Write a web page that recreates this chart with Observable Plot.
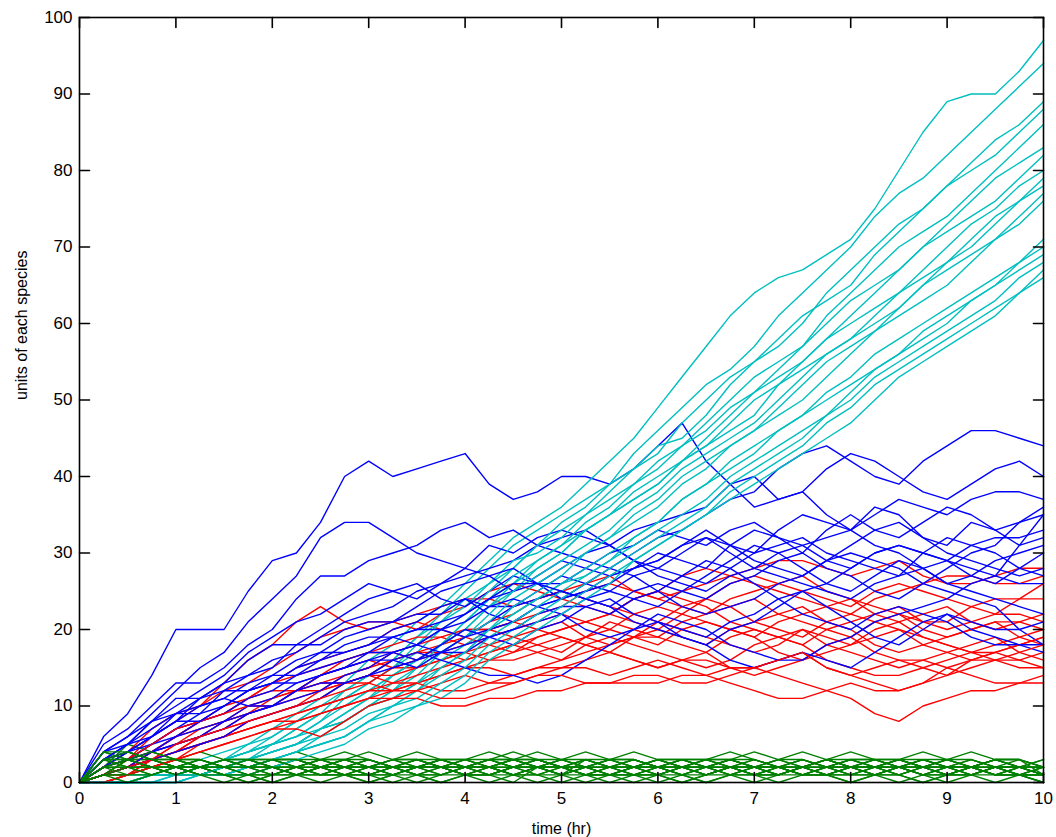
<!DOCTYPE html>
<html><head><meta charset="utf-8">
<script src="https://cdn.jsdelivr.net/npm/d3@7"></script>
<script src="https://cdn.jsdelivr.net/npm/@observablehq/plot@0.6"></script>
<style>body{margin:0;background:#fff}#chart{width:1056px;height:837px}</style>
</head><body><div id="chart"></div>
<script>
// ---------------- data ----------------
const xTicks = [0,1,2,3,4,5,6,7,8,9,10];
const yTicks = [0,10,20,30,40,50,60,70,80,90,100];
const xLabel = "time (hr)";
const yLabel = "units of each species";

const time = [0,0.25,0.5,0.75,1,1.25,1.5,1.75,2,2.25,2.5,2.75,3,3.25,3.5,3.75,4,4.25,4.5,4.75,5,5.25,5.5,5.75,6,6.25,6.5,6.75,7,7.25,7.5,7.75,8,8.25,8.5,8.75,9,9.25,9.5,9.75,10];

const blueRuns = [
 [0,6,9,14,20,20,20,25,29,30,34,40,42,40,41,42,43,39,37,38,40,40,39,41,44,47,42,39,36,37,38,35,33,36,35,32,31,34,33,31,32],
 [0,4,6,9,12,15,17,21,24,27,32,34,34,32,30,29,28,31,30,32,33,32,31,33,34,35,36,39,40,37,38,41,43,42,40,38,37,39,41,42,40],
 [0,5,7,10,13,13,15,18,20,24,27,27,29,30,31,33,34,32,33,31,30,29,28,30,32,33,35,37,38,41,43,44,42,40,39,42,44,46,46,45,44],
 [0,3,5,8,10,12,14,17,19,21,22,24,26,25,24,26,27,28,29,31,32,33,31,29,28,30,32,31,30,33,35,34,33,35,37,36,35,37,38,38,37],
 [0,4,5,8,9,9,12,14,15,18,20,22,24,25,26,24,23,25,27,26,26,28,30,31,33,32,31,33,34,32,30,33,35,33,32,34,36,35,33,34,35],
 [0,2,4,6,8,11,13,14,16,17,19,21,22,23,25,26,28,27,25,27,29,28,27,28,30,29,28,31,33,32,31,29,28,30,31,30,29,31,32,32,33],
 [0,4,6,8,11,11,13,16,18,18,18,20,21,21,23,25,26,27,28,26,24,25,27,28,29,31,33,31,29,28,27,29,31,33,34,32,30,29,28,27,28],
 [0,2,3,5,7,8,10,12,13,15,17,19,20,21,22,22,24,23,23,25,27,26,25,27,28,27,26,28,30,31,32,30,29,28,27,30,32,31,30,28,27],
 [0,3,4,6,8,10,11,13,14,14,16,18,19,19,18,20,22,24,25,26,28,30,31,29,27,26,25,27,28,30,31,32,33,31,30,28,26,27,29,30,31],
 [0,3,5,7,9,11,12,12,14,16,17,17,18,20,21,23,24,22,21,23,24,25,26,28,29,31,32,30,28,27,26,25,24,26,27,28,29,27,26,28,30],
 [0,2,3,5,6,8,9,11,12,14,15,16,17,19,20,20,19,21,23,24,25,24,23,25,26,25,24,26,27,29,30,28,27,25,24,26,28,30,31,34,36],
 [0,2,4,5,7,9,10,12,13,13,14,15,16,17,18,20,21,23,24,23,22,24,25,24,23,25,27,29,31,30,28,26,25,27,29,28,26,25,24,23,22],
 [0,2,3,4,6,7,8,10,11,13,14,15,16,16,15,17,19,20,21,23,24,26,28,27,25,23,22,23,24,26,27,29,30,29,28,26,25,24,23,20,18],
 [0,1,2,4,5,6,7,9,10,11,12,14,15,17,18,17,17,19,20,22,23,23,22,24,25,27,29,28,26,24,22,21,20,22,23,22,21,19,18,18,17],
 [0,3,4,6,9,10,11,10,10,12,14,15,17,17,16,18,20,19,18,20,21,23,24,22,21,20,19,21,22,24,25,23,21,19,18,20,22,20,19,18,18],
 [0,2,3,4,5,6,8,9,10,12,13,13,14,16,17,16,15,14,14,13,14,16,18,20,22,21,20,18,17,16,16,18,19,21,22,23,24,26,27,26,26],
 [0,1,2,3,4,5,6,8,9,10,11,13,14,15,16,17,18,19,20,21,22,20,19,20,21,19,18,16,15,16,17,16,15,17,19,21,22,21,20,20,21],
 [0,3,5,6,8,8,10,12,13,15,16,17,18,19,20,21,22,24,26,26,25,24,23,21,20,19,18,20,21,23,25,26,28,30,31,30,29,28,27,31,35]
];

const redRuns = [
 [0,1,3,6,8,10,13,16,18,21,23,21,20,21,22,23,24,24,23,24,25,26,27,25,24,25,26,27,28,29,29,28,27,28,29,27,26,26,27,28,28],
 [0,2,4,7,9,10,12,13,15,17,19,20,21,21,20,22,23,25,26,25,24,23,22,24,25,27,28,27,26,25,24,23,22,24,25,26,27,27,26,26,27],
 [0,1,2,4,6,8,10,11,13,15,16,17,18,20,21,20,19,21,22,24,25,24,23,22,21,23,24,26,27,26,25,24,23,25,26,25,24,23,22,24,26],
 [0,2,3,5,7,8,9,11,13,14,15,16,17,17,16,18,20,20,21,22,23,25,26,25,24,23,22,24,25,26,27,25,24,23,22,21,21,23,24,24,24],
 [0,1,2,4,5,7,8,10,11,12,14,16,17,18,19,19,18,19,20,21,22,21,20,22,23,22,21,20,19,21,22,23,24,22,21,22,23,21,20,21,22],
 [0,1,1,3,4,6,8,9,10,12,13,14,15,16,17,18,19,18,17,19,20,21,22,24,25,24,23,21,20,19,18,20,21,22,23,21,20,21,22,22,21],
 [0,2,3,4,6,8,9,11,12,12,12,14,15,17,18,19,20,20,19,18,17,19,21,20,19,21,22,23,24,22,21,20,19,21,22,20,19,20,21,21,20],
 [0,1,2,4,6,7,8,9,10,12,14,15,16,15,15,16,17,18,19,20,21,19,18,19,20,22,24,23,21,20,19,21,22,21,20,19,18,17,17,18,19],
 [0,1,1,2,3,5,6,8,9,10,12,13,14,16,17,17,16,17,18,19,20,21,22,21,20,19,18,20,21,22,23,21,20,18,17,18,19,20,21,19,18],
 [0,1,2,3,5,6,7,9,11,12,13,13,13,15,16,17,18,20,21,20,19,18,17,19,21,20,19,18,17,18,20,19,18,20,21,19,18,17,16,16,17],
 [0,1,2,3,4,6,7,8,9,10,11,13,14,14,15,16,17,16,16,17,18,19,20,19,18,20,21,20,19,17,16,17,18,19,20,18,17,18,19,17,16],
 [0,0,1,3,4,5,6,7,8,9,10,11,12,13,14,15,16,17,18,17,16,18,19,18,17,16,15,16,18,19,20,18,17,16,15,16,17,16,16,15,15],
 [0,2,3,5,7,8,9,10,10,11,12,13,14,13,13,14,15,16,17,18,19,18,17,16,15,16,17,19,20,19,18,16,15,14,14,15,16,17,18,19,20],
 [0,1,2,3,4,5,6,7,8,9,10,11,12,12,13,14,15,15,14,15,16,17,18,19,19,18,17,15,14,15,16,18,19,17,16,15,14,16,17,18,19],
 [0,0,1,2,3,4,5,6,7,8,9,10,11,12,13,12,12,13,14,15,15,16,17,16,15,16,16,15,15,16,17,15,14,13,12,13,15,14,13,13,14],
 [0,1,2,3,4,5,6,7,8,8,9,10,11,11,12,13,14,13,13,14,15,15,14,15,16,15,14,13,12,11,11,12,13,12,12,13,14,15,16,17,18],
 [0,0,1,2,3,4,5,6,7,7,6,8,10,11,11,10,10,11,11,12,12,13,13,13,13,14,14,15,15,14,13,12,11,9,8,10,11,12,12,13,13],
 [0,1,2,3,5,6,7,8,9,10,11,12,13,12,12,11,11,12,13,14,14,13,13,14,14,13,13,14,15,16,17,15,14,15,16,16,15,16,17,16,15]
];

const cyanRuns = [
 [0,0,0,1,2,3,4,5,7,9,11,13,16,18,21,23,26,29,32,34,36,39,42,45,49,53,57,61,64,66,67,69,71,75,80,85,89,90,90,93,97],
 [0,0,1,1,2,2,3,4,6,8,10,12,14,16,19,22,25,28,31,33,35,37,39,43,46,49,52,54,57,61,64,67,70,74,77,79,82,85,88,91,94],
 [0,0,0,1,1,2,3,4,5,7,9,12,14,16,19,21,24,26,28,31,34,36,39,41,43,47,50,53,55,57,60,64,67,70,73,75,78,81,84,86,89],
 [0,0,0,1,1,2,2,3,5,6,8,11,13,15,18,21,23,26,29,30,32,35,38,41,44,45,48,52,55,58,61,63,65,69,72,75,78,80,82,85,88],
 [0,0,1,1,1,2,3,5,6,8,10,11,13,15,17,20,22,25,28,31,33,35,37,39,41,44,47,50,53,55,57,61,64,67,70,72,74,77,80,83,86],
 [0,0,0,1,1,1,2,3,4,5,7,9,11,14,16,18,21,24,26,29,31,34,36,39,42,44,46,49,51,54,57,60,63,65,67,70,73,76,79,81,83],
 [0,0,0,1,2,2,3,4,5,6,8,10,12,14,16,18,21,24,27,29,31,33,35,37,39,42,45,48,51,53,55,58,61,64,67,70,72,74,76,79,82],
 [0,0,0,0,1,2,3,4,5,7,9,10,12,14,16,18,20,23,26,28,30,33,35,37,39,42,44,46,48,52,55,58,60,62,64,67,70,73,75,78,80],
 [0,0,0,1,1,1,2,3,4,5,6,8,10,12,15,18,20,23,25,28,30,33,35,38,40,42,44,47,50,52,54,56,58,61,64,66,68,70,73,76,79],
 [0,0,0,0,0,1,2,3,4,5,7,9,11,13,15,17,19,22,25,27,29,31,33,36,38,41,43,45,47,50,53,56,58,60,62,65,68,71,74,76,78],
 [0,0,1,2,2,2,3,4,5,6,7,8,10,12,14,17,19,21,24,26,28,30,32,35,37,40,42,44,46,49,52,55,57,59,62,65,67,69,71,74,77],
 [0,0,0,1,1,2,2,3,4,5,7,8,10,11,13,16,18,20,23,25,27,30,32,34,36,39,41,44,46,48,50,53,56,59,61,63,65,68,71,73,76],
 [0,0,0,0,1,1,1,2,3,4,5,6,8,10,12,15,17,20,22,24,26,27,29,32,34,37,39,42,44,46,48,51,53,56,58,60,62,64,66,68,71],
 [0,0,0,1,1,2,3,3,4,5,7,8,10,11,13,15,17,20,22,24,26,28,30,32,34,37,39,41,43,46,48,50,52,54,56,59,61,63,65,68,70],
 [0,0,0,0,0,1,1,2,3,4,5,6,8,10,12,14,16,19,21,23,25,27,29,31,33,35,37,40,42,44,46,48,51,54,56,58,60,63,65,67,69],
 [0,0,0,1,1,2,2,2,3,4,6,7,9,10,11,13,15,18,20,22,24,26,28,30,32,34,36,39,41,43,45,48,50,53,55,57,59,61,63,66,68],
 [0,0,0,0,0,1,1,1,2,3,4,5,7,8,10,11,13,16,18,20,22,24,26,29,31,33,35,38,40,42,44,47,49,52,54,56,58,60,62,64,66],
 [0,0,0,1,1,1,2,2,3,4,5,6,8,9,10,12,14,17,19,21,23,25,27,29,31,33,35,37,39,41,43,45,47,50,53,55,57,59,61,64,67]
];

const greenRuns = [
 [0,3,4,3,2,3,2,2,1,2,3,2,2,3,4,3,2,1,0,2,3,2,1,1,2,3,3,2,1,2,3,2,2,3,2,1,2,3,2,1,1],
 [0,2,5,4,3,2,2,3,2,1,1,2,3,2,1,2,2,3,3,2,1,2,3,4,3,2,2,1,0,1,2,1,2,2,3,3,2,1,2,2,1],
 [0,4,3,2,2,1,2,3,3,2,2,1,0,1,2,3,2,2,1,2,3,3,2,1,2,2,1,2,3,2,2,3,4,3,2,1,2,2,1,2,2],
 [0,1,3,4,3,3,2,1,2,2,3,4,3,2,2,1,1,2,3,2,2,1,2,3,2,1,0,1,2,2,3,2,1,1,2,3,3,2,3,2,1],
 [0,2,3,3,2,1,1,2,3,3,2,2,3,2,1,0,1,2,2,3,2,1,1,2,3,3,2,3,2,1,2,2,3,2,1,2,3,4,3,2,2],
 [0,3,3,2,3,4,3,2,1,1,2,2,1,2,3,2,3,4,3,2,1,2,2,3,2,2,3,2,2,3,2,1,0,1,2,1,2,2,3,2,3],
 [0,1,2,3,2,2,3,3,2,2,1,2,2,3,3,2,1,2,1,0,1,3,2,2,1,2,3,4,3,2,1,2,3,3,2,2,1,2,1,1,2],
 [0,2,4,3,2,2,1,1,2,3,2,3,3,2,2,3,2,2,3,3,2,2,3,2,1,0,1,2,3,2,1,2,2,1,2,3,2,2,3,3,1],
 [0,3,2,2,1,2,2,2,3,4,3,2,1,1,2,2,3,2,2,1,2,2,1,2,2,3,2,1,2,2,1,2,3,2,3,4,3,3,2,1,2],
 [0,1,3,2,2,3,2,1,0,1,2,3,2,3,2,2,1,1,2,3,3,4,3,2,2,1,1,2,2,1,2,3,2,2,1,0,1,1,2,2,1],
 [0,2,2,3,3,2,3,2,2,3,2,1,2,2,1,1,2,3,2,2,1,1,2,2,3,2,2,3,3,2,2,3,2,1,2,2,2,3,2,2,3],
 [0,4,3,3,2,1,2,3,2,1,2,3,2,1,2,3,3,2,1,2,2,3,2,3,2,2,1,2,1,2,3,2,2,2,3,2,1,1,2,3,2],
 [0,2,3,2,2,2,1,2,2,3,3,2,2,1,0,1,2,1,2,3,2,2,3,3,2,1,2,2,2,3,3,2,1,2,3,2,2,1,0,1,1],
 [0,1,2,2,3,3,2,2,3,2,1,1,2,3,3,2,2,3,2,2,3,2,2,1,0,1,2,2,1,1,2,2,3,3,2,2,3,2,2,1,0],
 [0,2,1,2,3,2,1,1,0,1,2,2,3,2,2,1,2,3,4,3,2,1,1,2,2,1,2,3,2,2,1,1,2,2,3,2,1,2,3,2,2],
 [0,3,2,1,1,2,3,2,2,1,0,1,1,2,2,3,2,1,1,2,1,0,1,2,3,2,1,2,2,3,4,3,2,2,1,2,2,1,2,1,1],
 [0,1,1,2,1,1,2,2,3,3,2,1,1,0,1,2,2,2,1,1,2,3,3,2,1,1,0,1,1,2,2,1,1,2,2,1,0,1,2,2,2],
 [0,2,3,2,1,2,1,0,1,2,1,1,2,2,3,2,1,1,2,1,1,2,1,0,1,2,2,3,2,1,2,1,0,1,1,2,3,2,1,1,1],
 [0,1,2,1,2,1,0,1,2,1,2,2,1,2,1,0,1,1,2,2,2,1,0,1,1,2,1,1,2,1,1,2,2,1,0,1,1,2,1,2,1],
 [0,3,4,3,3,2,2,3,2,2,3,3,2,2,3,3,2,3,3,2,2,3,2,2,3,2,3,3,2,2,2,3,3,2,2,3,2,2,3,3,2],
 [0,1,0,1,2,1,1,0,1,1,2,1,0,1,2,2,1,0,1,1,0,1,2,1,1,0,1,2,1,0,1,1,2,1,1,0,1,2,2,1,0],
 [0,2,2,2,1,2,3,3,3,2,2,2,1,1,2,3,3,3,2,2,1,2,2,2,3,3,2,2,1,1,2,3,2,2,2,1,1,2,2,2,1],
 [0,4,4,3,2,2,2,1,1,2,3,3,2,1,1,1,2,2,3,3,2,1,1,1,2,3,3,3,2,2,1,1,2,3,3,2,2,2,1,1,2],
 [0,1,1,1,2,2,1,1,1,2,1,1,1,2,2,2,1,1,2,3,2,2,1,1,1,2,2,1,1,1,2,2,1,1,2,2,1,1,1,1,0],
 [0,2,3,4,3,2,3,2,3,3,2,3,4,3,2,2,3,2,3,4,3,2,3,3,2,3,2,3,4,3,2,3,2,3,3,2,3,2,3,3,2],
 [0,3,3,2,2,3,2,2,2,1,1,2,2,2,3,2,2,2,1,2,2,1,1,2,2,2,3,2,2,2,1,1,1,2,2,3,2,2,1,2,1]
];

const species = [
 {name: "blue",  color: "#0000ff", runs: blueRuns},
 {name: "green", color: "#008000", runs: greenRuns},
 {name: "red",   color: "#ff0000", runs: redRuns},
 {name: "cyan",  color: "#00bfbf", runs: cyanRuns}
];

// rows in MATLAB plotting order: each run draws blue, green, red, cyan
const rows = [];
const nRuns = d3.max(species, s => s.runs.length);
for (let r = 0; r < nRuns; r++) {
  for (const s of species) {
    if (r >= s.runs.length) continue;
    s.runs[r].forEach((v, i) => rows.push({t: time[i], v, key: s.name + "-" + r, color: s.color}));
  }
}

const tickShape = {draw(context, l) { context.moveTo(0, 0); context.lineTo(0, -l); }};
const tickLen = 10;
const font = "'Liberation Sans', Arial, Helvetica, sans-serif";

const chart = Plot.plot({
  width: 1056,
  height: 837,
  marginLeft: 79,
  marginRight: 13,
  marginTop: 17,
  marginBottom: 55,
  style: {fontFamily: font, fontSize: "17px", background: "#fff", color: "#000"},
  x: {domain: [0, 10]},
  y: {domain: [0, 100]},
  color: {type: "identity"},
  marks: [
    Plot.line(rows, {x: "t", y: "v", z: "key", stroke: "color", strokeWidth: 1.4}),
    Plot.frame({stroke: "#000", strokeWidth: 1.6}),
    Plot.vector(xTicks, {x: d => d, frameAnchor: "bottom", length: tickLen, rotate: 0, anchor: "start", shape: tickShape, stroke: "#000", strokeWidth: 1.6}),
    Plot.vector(xTicks, {x: d => d, frameAnchor: "top", length: tickLen, rotate: 180, anchor: "start", shape: tickShape, stroke: "#000", strokeWidth: 1.6}),
    Plot.vector(yTicks, {y: d => d, frameAnchor: "left", length: tickLen, rotate: 90, anchor: "start", shape: tickShape, stroke: "#000", strokeWidth: 1.6}),
    Plot.vector(yTicks, {y: d => d, frameAnchor: "right", length: tickLen, rotate: -90, anchor: "start", shape: tickShape, stroke: "#000", strokeWidth: 1.6}),
    Plot.axisX({ticks: xTicks, tickSize: 0, tickPadding: 9, label: null, fontSize: 17}),
    Plot.axisY({ticks: yTicks, tickSize: 0, tickPadding: 7, label: null, fontSize: 17}),
    Plot.text([xLabel], {text: d => d, frameAnchor: "bottom", dy: 46, fontSize: 16, lineAnchor: "middle"}),
    Plot.text([yLabel], {text: d => d, frameAnchor: "left", dx: -58, rotate: -90, fontSize: 16, lineAnchor: "middle"})
  ]
});
document.getElementById("chart").appendChild(chart);
</script>
</body></html>
